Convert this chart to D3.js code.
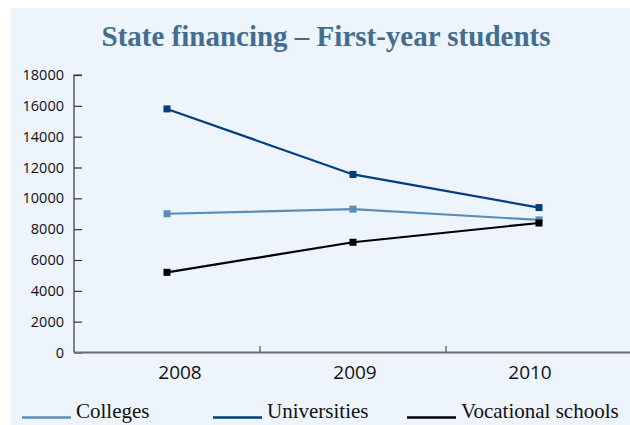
<!DOCTYPE html>
<html>
<head>
<meta charset="utf-8">
<script src="https://cdn.jsdelivr.net/npm/d3@7"></script>
<style>
  body { margin: 0; background: #fff; }
  svg { display: block; }
</style>
</head>
<body>
<svg></svg>
<script>
let years = ["2008", "2009", "2010"];
let colleges = [9000, 9300, 8600];
let universities = [15800, 11550, 9400];
let vocational = [5200, 7150, 8400];
let yTicks = [0, 2000, 4000, 6000, 8000, 10000, 12000, 14000, 16000, 18000];
let seriesNames = ["Colleges", "Universities", "Vocational schools"];
let seriesColors = ["#5a8dba", "#003f7d", "#000000"];

let w = 630;
let h = 425;
let svg = d3.select("svg").attr("width", w).attr("height", h);

// panel background
svg.append("rect")
  .attr("x", 11).attr("y", 8)
  .attr("width", w - 11).attr("height", h - 8)
  .attr("fill", "#edf4fb");

svg.append("text")
  .attr("x", 326).attr("y", 46)
  .attr("text-anchor", "middle")
  .attr("font-family", "Liberation Serif, serif")
  .attr("font-weight", "bold")
  .attr("font-size", 29)
  .attr("fill", "#426d91")
  .text("State financing \u2013 First-year students");

let xScale = d3.scaleBand().domain(years).range([74, 632]);
let xLabel = d3.scalePoint().domain(years).range([180, 530]);
let yScale = d3.scaleLinear().domain([0, 18000]).range([352.5, 75]);

// y axis
let yAxis = d3.axisRight(yScale).tickValues(yTicks).tickSize(8).tickFormat("");
let gy = svg.append("g").attr("transform", "translate(74,0)").call(yAxis);
gy.selectAll("line, path").attr("stroke", "#333").attr("stroke-width", 1.2);
gy.select(".domain").attr("d", "M8,75H0V352.5");

svg.append("g").selectAll("text")
  .data(yTicks)
  .enter()
  .append("text")
  .attr("x", 64)
  .attr("y", (d) => yScale(d) + 5)
  .attr("text-anchor", "end")
  .attr("font-family", "Open Sans, sans-serif")
  .attr("font-size", 14.5)
  .attr("fill", "#111")
  .text((d) => d);

// x axis
svg.append("line")
  .attr("x1", 74).attr("x2", w)
  .attr("y1", 352.5).attr("y2", 352.5)
  .attr("stroke", "#6e6e6e").attr("stroke-width", 2);
svg.append("g").selectAll("line")
  .data(years.slice(1))
  .enter()
  .append("line")
  .attr("x1", (d) => xScale(d)).attr("x2", (d) => xScale(d))
  .attr("y1", 352.5).attr("y2", 346)
  .attr("stroke", "#555").attr("stroke-width", 1.2);

svg.append("g").selectAll("text")
  .data(years)
  .enter()
  .append("text")
  .attr("x", (d) => xLabel(d))
  .attr("y", 379)
  .attr("text-anchor", "middle")
  .attr("font-family", "Open Sans, sans-serif")
  .attr("font-size", 19)
  .attr("fill", "#111")
  .text((d) => d);

// lines
let allSeries = [colleges, universities, vocational];
let cx = (i) => xScale(years[i]) + xScale.bandwidth() / 2;
let line = d3.line().x((d, i) => cx(i)).y((d) => yScale(d));

allSeries.forEach((vals, s) => {
  svg.append("path")
    .datum(vals)
    .attr("d", line)
    .attr("fill", "none")
    .attr("stroke", seriesColors[s])
    .attr("stroke-width", 2.2);
  svg.append("g").selectAll("rect")
    .data(vals)
    .enter()
    .append("rect")
    .attr("x", (d, i) => cx(i) - 3.5)
    .attr("y", (d) => yScale(d) - 3.5)
    .attr("width", 7).attr("height", 7)
    .attr("fill", seriesColors[s]);
});

// legend
let legendX = [22, 213, 407];
let legend = svg.append("g").selectAll("g")
  .data(seriesNames)
  .enter()
  .append("g")
  .attr("transform", (d, i) => `translate(${legendX[i]},0)`);
legend.append("line")
  .attr("x1", 0).attr("x2", 49)
  .attr("y1", 417.5).attr("y2", 417.5)
  .attr("stroke", (d, i) => seriesColors[i])
  .attr("stroke-width", 2.5);
legend.append("text")
  .attr("x", 54).attr("y", 418)
  .attr("font-family", "Liberation Serif, serif")
  .attr("font-size", 21)
  .attr("fill", "#111")
  .text((d) => d);
</script>
</body>
</html>
